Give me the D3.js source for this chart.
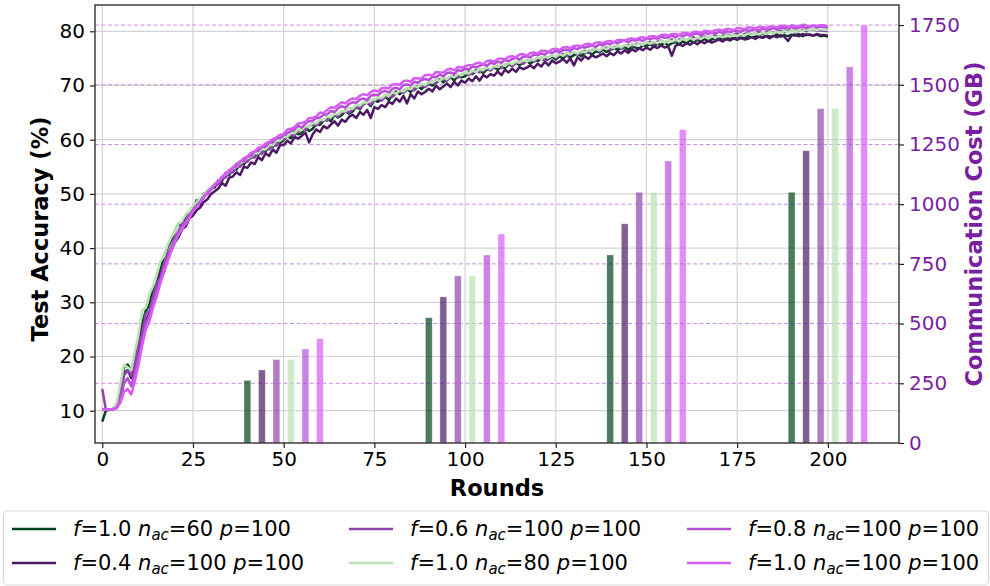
<!DOCTYPE html>
<html><head><meta charset="utf-8">
<script src="https://cdn.jsdelivr.net/npm/d3@7"></script>
<style>
html,body{margin:0;padding:0;background:#fff;}
svg{display:block;font-family:"DejaVu Sans",sans-serif;}
</style></head>
<body><svg id="chart" width="990" height="586"></svg>
<script>
// ---------------- data ----------------
const xTicks = [0,25,50,75,100,125,150,175,200];
const yTicks = [10,20,30,40,50,60,70,80];
const costTicks = [0,250,500,750,1000,1250,1500,1750];
const barRounds = [50,100,150,200];
const barOffsets = [-10,-6,-2,2,6,10];

const seriesNames = ["S1","S2","S3","S4","S5","S6"];
const legendF = ["1.0","0.4","0.6","1.0","0.8","1.0"];
const legendNac = ["60","100","100","80","100","100"];
const legendP = ["100","100","100","100","100","100"];
const colors = ["#00441b","#4b1a63","#8e44ad","#b8e3b0","#b44fd6","#d65cf5"];

const accS1 = [
8.0,10.0,10.2,10.3,11.0,14.0,18.0,18.5,17.5,20.0,
23.0,26.0,28.5,29.5,32.5,33.5,36.0,38.5,40.0,41.5,
43.0,44.5,44.0,46.0,46.5,47.0,48.8,48.0,50.0,50.5,
51.0,51.2,52.5,52.4,53.6,53.5,54.6,54.5,55.6,55.4,
56.5,56.6,57.3,57.2,58.2,57.8,59.0,58.7,59.8,59.4,
59.9,60.6,60.3,61.4,61.0,61.2,62.3,61.6,62.0,62.9,
62.7,63.5,63.9,63.4,64.6,64.1,64.5,65.3,64.8,65.2,
66.1,65.6,66.6,66.9,66.2,67.3,67.0,67.6,67.9,67.3,
68.3,68.9,68.4,69.0,69.4,68.8,69.5,69.9,69.3,70.1,
70.3,70.0,70.9,71.1,70.6,71.2,71.6,70.9,71.8,71.5,
71.7,72.4,72.1,72.6,72.9,72.3,73.0,72.8,73.4,72.9,
73.5,73.2,73.9,73.6,74.2,73.8,74.1,74.5,74.0,74.6,
74.5,75.0,74.7,74.9,75.3,74.8,75.4,75.0,75.6,75.2,
75.6,75.9,75.4,76.0,76.2,75.7,76.3,76.1,76.6,76.2,
76.5,76.9,76.6,76.8,77.1,76.6,77.2,77.0,76.8,77.4,
77.3,77.6,77.2,77.7,77.5,77.9,77.4,77.8,78.0,77.6,
78.1,77.8,78.3,78.0,78.4,78.2,78.6,78.1,78.5,78.7,
78.4,78.7,78.5,78.9,78.6,79.0,78.7,78.8,79.1,78.9,
79.0,79.2,78.8,79.3,79.0,79.1,79.4,79.0,79.3,79.1,
79.4,79.2,79.5,79.1,79.4,79.3,79.2,79.4,79.1,79.2,
79.0];
const accS2 = [
10.2,10.2,10.2,10.3,10.6,13.0,17.0,17.5,16.0,18.5,
21.0,25.5,26.5,28.0,30.5,32.0,36.0,35.5,38.0,39.5,
41.0,42.0,43.5,44.0,45.5,46.0,47.0,47.5,48.5,49.0,
50.0,50.5,51.0,52.0,51.5,53.0,53.2,54.0,53.5,55.0,
54.8,55.8,55.5,56.8,56.2,57.5,57.0,58.2,57.6,59.0,
59.0,59.8,59.3,60.5,60.2,60.7,61.3,59.5,61.0,61.9,
61.4,62.5,62.1,62.8,63.4,62.6,63.7,63.3,64.2,64.6,
64.0,65.1,64.6,65.5,64.0,66.0,65.7,66.4,66.0,67.0,
66.6,67.6,67.0,68.1,66.7,68.4,67.6,68.9,68.4,68.8,
69.4,68.9,70.0,69.3,69.8,70.4,69.7,70.7,70.0,70.9,
70.5,71.3,70.8,71.7,70.9,71.9,71.5,72.1,71.8,72.6,
71.9,72.9,72.4,73.1,72.5,73.4,73.0,73.3,73.7,73.2,
74.0,73.5,74.4,73.7,74.6,74.1,74.4,74.9,74.2,75.0,
73.7,75.2,74.6,75.4,74.9,75.6,75.2,75.5,75.9,75.4,
76.0,75.6,76.3,75.9,76.5,76.0,76.7,76.3,76.9,76.5,
77.0,76.6,77.2,76.9,77.4,77.0,77.2,75.5,77.3,77.6,
77.3,77.8,77.5,78.0,77.6,78.1,77.8,78.3,77.9,78.2,
78.5,78.1,78.6,78.3,78.7,78.4,78.8,78.5,78.6,79.0,
78.6,79.0,78.8,79.1,78.7,79.2,78.9,79.3,79.0,78.2,
79.2,79.4,79.1,79.5,79.3,79.4,79.2,79.5,79.3,79.3,
79.2];
const accS3 = [
14.0,10.2,10.2,10.2,10.5,12.5,16.5,17.5,16.5,19.0,
22.5,24.0,28.0,28.5,31.0,33.5,34.5,37.0,39.0,40.0,
42.0,43.0,44.5,45.0,46.5,46.8,48.0,48.5,49.5,50.0,
50.8,51.5,51.8,52.8,53.0,54.0,54.0,55.0,55.0,56.0,
55.9,56.9,56.7,57.6,57.4,58.4,58.2,59.0,58.9,59.8,
60.1,60.6,60.9,60.8,61.6,61.9,61.7,62.5,62.8,62.6,
63.3,63.7,63.5,64.2,64.6,64.3,65.0,65.4,65.0,65.6,
66.1,65.8,66.5,66.9,66.5,67.2,67.6,67.2,67.9,68.2,
67.9,68.6,68.9,68.6,69.2,69.5,69.1,69.8,70.1,69.7,
70.3,70.7,70.4,70.9,71.3,70.9,71.5,71.8,71.4,72.0,
72.3,71.9,72.4,72.8,72.4,72.9,73.2,72.8,73.4,73.6,
73.2,73.8,74.0,73.6,74.2,74.4,74.0,74.5,74.8,74.4,
74.9,75.1,74.7,75.2,75.5,75.1,75.6,75.8,75.4,75.9,
76.1,75.7,76.2,76.4,76.0,76.5,76.7,76.3,76.8,77.0,
76.6,77.1,77.3,76.9,77.3,77.5,77.2,77.6,77.8,77.4,
77.8,78.0,77.6,78.1,78.3,77.9,78.3,78.5,78.1,78.5,
78.7,78.3,78.7,78.9,78.5,78.9,79.1,78.7,79.1,79.3,
78.9,79.2,79.4,79.1,79.4,79.6,79.2,79.5,79.7,79.4,
79.7,79.9,79.5,79.8,80.0,79.7,79.9,80.1,79.8,80.1,
80.2,79.9,80.2,80.3,80.0,80.2,80.3,80.1,80.2,80.1,
80.0];
const accS4 = [
10.2,10.2,10.2,10.3,11.5,15.0,18.5,18.0,17.5,21.0,
24.0,28.5,29.0,31.5,33.0,35.0,37.5,38.5,40.5,42.0,
43.0,44.5,45.0,46.2,46.8,47.8,48.5,49.2,49.8,50.8,
51.2,51.9,52.4,53.0,53.6,54.0,54.7,55.0,55.7,56.0,
56.6,56.9,57.5,57.5,58.3,58.2,59.0,59.0,59.8,59.8,
60.6,60.5,61.3,61.2,61.9,61.8,62.5,62.4,63.1,63.0,
63.7,63.6,64.3,64.1,64.8,64.7,65.3,65.2,65.9,65.7,
66.4,66.3,66.9,66.8,67.4,67.3,67.8,67.7,68.3,68.1,
68.7,68.5,69.1,68.9,69.5,69.3,69.9,69.7,70.3,70.1,
70.7,70.5,71.1,70.8,71.4,71.2,71.8,71.5,72.1,71.9,
72.4,72.2,72.7,72.5,73.0,72.8,73.3,73.1,73.6,73.4,
73.9,73.6,74.2,73.9,74.4,74.2,74.7,74.4,74.9,74.7,
75.2,74.9,75.4,75.1,75.6,75.3,75.8,75.5,76.0,75.7,
76.2,75.9,76.4,76.1,76.6,76.3,76.8,76.5,77.0,76.7,
77.2,76.9,77.4,77.0,77.5,77.2,77.7,77.4,77.8,77.5,
78.0,77.7,78.1,77.8,78.3,77.9,78.4,78.1,78.5,78.2,
78.7,78.3,78.8,78.4,78.9,78.6,79.0,78.7,79.1,78.8,
79.2,78.9,79.3,79.0,79.4,79.1,79.5,79.2,79.6,79.3,
79.7,79.4,79.8,79.5,79.9,79.6,80.0,79.7,80.1,79.8,
80.2,79.9,80.3,80.0,80.4,80.1,80.4,80.2,80.4,80.3,
80.3];
const accS5 = [
10.2,10.2,10.2,10.3,10.6,12.0,15.0,16.0,14.5,17.0,
20.0,23.0,26.0,27.5,30.0,32.0,34.0,36.5,38.0,40.0,
41.5,42.5,44.0,44.8,46.0,46.8,47.8,48.6,49.5,50.3,
51.0,51.6,52.5,52.8,53.9,54.0,54.9,55.1,56.0,56.1,
56.9,57.0,57.9,57.9,58.7,58.7,59.5,59.5,60.3,60.3,
60.8,61.2,61.6,61.9,62.6,62.2,63.0,63.4,63.5,64.0,
64.1,64.6,64.7,65.3,65.1,65.8,66.2,65.9,66.6,66.9,
66.8,67.4,67.6,67.3,68.1,68.3,68.2,68.8,69.0,68.7,
69.4,69.6,69.3,70.1,70.2,70.0,70.7,70.5,71.0,71.2,
71.0,71.6,71.5,72.0,71.7,72.3,72.4,72.1,72.8,72.7,
73.1,72.9,73.5,73.3,73.6,73.9,73.6,74.2,74.0,74.4,
74.2,74.7,74.5,74.9,75.1,74.8,75.3,75.4,75.2,75.7,
75.6,75.9,75.7,76.2,76.0,76.4,76.1,76.5,76.6,76.4,
76.9,76.7,77.1,77.0,77.2,77.4,77.1,77.6,77.4,77.8,
77.6,78.0,77.8,78.1,78.3,78.0,78.4,78.3,78.5,78.2,
78.7,78.5,78.8,78.6,79.0,78.8,78.9,79.2,78.9,79.3,
79.1,79.4,79.2,79.5,79.6,79.3,79.7,79.5,79.8,79.6,
79.9,79.7,80.0,79.8,80.1,80.0,79.9,80.3,80.1,80.2,
80.4,80.1,80.5,80.3,80.4,80.6,80.3,80.7,80.5,80.6,
80.8,80.5,80.7,80.9,80.6,80.8,81.0,80.7,80.9,80.8,
80.7];
const accS6 = [
10.2,10.2,10.2,10.3,10.5,11.5,13.5,14.0,13.0,15.5,
18.5,22.0,25.0,26.5,29.0,31.0,33.5,35.5,37.5,39.5,
41.0,42.5,43.5,44.5,45.5,46.8,47.5,48.5,49.3,50.2,
51.0,51.8,52.3,53.2,53.6,54.4,54.8,55.6,55.9,56.6,
56.9,57.6,57.8,58.5,58.7,59.3,59.6,60.1,60.4,60.9,
61.0,61.9,62.0,62.3,63.0,63.1,63.3,64.0,64.0,64.3,
65.0,64.9,65.5,66.0,65.9,66.4,66.9,66.7,67.3,67.6,
67.5,68.1,68.4,68.2,68.8,69.1,68.9,69.5,69.6,69.5,
70.2,70.3,70.1,70.8,70.9,70.7,71.4,71.3,71.3,71.9,
72.0,71.8,72.5,72.4,72.4,72.9,73.1,72.8,73.4,73.3,
73.5,73.8,73.7,74.1,74.2,73.9,74.5,74.6,74.4,74.9,
75.0,74.8,75.3,75.4,75.2,75.7,75.8,75.5,76.0,76.1,
75.9,76.4,76.4,76.2,76.7,76.8,76.5,77.0,77.1,76.9,
77.3,77.4,77.2,77.6,77.7,77.5,77.9,78.0,77.8,78.1,
78.2,78.0,78.4,78.4,78.2,78.6,78.7,78.5,78.8,78.9,
78.7,79.1,79.1,78.9,79.3,79.4,79.2,79.5,79.5,79.3,
79.7,79.7,79.5,79.9,79.9,79.7,80.1,80.0,79.9,80.2,
80.3,80.1,80.4,80.4,80.2,80.6,80.5,80.4,80.7,80.7,
80.5,80.8,80.8,80.6,80.9,80.9,80.7,81.0,81.0,80.8,
81.1,81.0,80.9,81.2,81.1,80.9,81.1,81.0,81.1,81.1,
80.9];

const costS1 = [262.5,525,787.5,1050];
const costS2 = [306,612,918,1224];
const costS3 = [350,700,1050,1400];
const costS4 = [350,700,1050,1400];
const costS5 = [393.75,787.5,1181.25,1575];
const costS6 = [437.5,875,1312.5,1750];

const accAll = [accS1,accS2,accS3,accS4,accS5,accS6];
const costAll = [costS1,costS2,costS3,costS4,costS5,costS6];

// ---------------- layout ----------------
const svg = d3.select("#chart");
const L = 95, R = 899, T = 5, B = 443;
const purple = "#7b1fa2";

const x = d3.scaleLinear().domain([-2, 219.6]).range([L, R]);
const y = d3.scaleLinear().domain([4.04, 84.85]).range([B, T]);
const y2 = d3.scaleLinear().domain([0, 1834]).range([B, T]);

// grids
const g = svg.append("g");
g.selectAll(".xg").data(xTicks).join("line")
  .attr("x1", d => x(d)).attr("x2", d => x(d)).attr("y1", T).attr("y2", B)
  .attr("stroke", "#d3d3d3").attr("stroke-width", 1.2);
g.selectAll(".yg").data(yTicks).join("line")
  .attr("x1", L).attr("x2", R).attr("y1", d => y(d)).attr("y2", d => y(d))
  .attr("stroke", "#d3d3d3").attr("stroke-width", 1.2);
g.selectAll(".y2g").data(costTicks.filter(d => d > 0)).join("line")
  .attr("x1", L).attr("x2", R).attr("y1", d => y2(d)).attr("y2", d => y2(d))
  .attr("stroke", "#c98ee0").attr("stroke-width", 1).attr("stroke-dasharray", "4,2.5");

// lines
const line = d3.line().x((d, i) => x(i)).y(d => y(d));
accAll.forEach((arr, k) => {
  svg.append("path").datum(arr).attr("d", line)
    .attr("fill", "none").attr("stroke", colors[k]).attr("stroke-width", 2.5)
    .attr("stroke-linejoin", "round");
});

// bars
const barW = x(1.9) - x(0);
costAll.forEach((arr, k) => {
  svg.append("g").selectAll("rect").data(arr).join("rect")
    .attr("x", (d, i) => x(barRounds[i] + barOffsets[k]) - barW / 2)
    .attr("width", barW)
    .attr("y", d => y2(d))
    .attr("height", d => y2(0) - y2(d))
    .attr("fill", colors[k]).attr("fill-opacity", 0.7)
    .attr("stroke", "#ffffff").attr("stroke-opacity", 0.5).attr("stroke-width", 0.8);
});

// frame
svg.append("rect").attr("x", L).attr("y", T).attr("width", R - L).attr("height", B - T)
  .attr("fill", "none").attr("stroke", "#222").attr("stroke-width", 1.3);

// axes
const fs = 20;
const xAxis = svg.append("g").attr("transform", `translate(0,${B})`)
  .call(d3.axisBottom(x).tickValues(xTicks).tickSize(5).tickPadding(4).tickFormat(d3.format("d")));
const yAxis = svg.append("g").attr("transform", `translate(${L},0)`)
  .call(d3.axisLeft(y).tickValues(yTicks).tickSize(5).tickPadding(5).tickFormat(d3.format("d")));
const y2Axis = svg.append("g").attr("transform", `translate(${R},0)`)
  .call(d3.axisRight(y2).tickValues(costTicks).tickSize(5).tickPadding(5).tickFormat(d3.format("d")));
[xAxis, yAxis, y2Axis].forEach(a => {
  a.select(".domain").remove();
  a.selectAll("text").attr("font-size", fs).attr("font-family", "DejaVu Sans").attr("fill", "#000");
  a.selectAll("line").attr("stroke", "#222").attr("stroke-width", 1.2);
});
y2Axis.selectAll("text").attr("fill", purple);

// axis titles
svg.append("text").attr("x", 497).attr("y", 496)
  .attr("text-anchor", "middle").attr("font-size", 22.5).attr("font-weight", "bold").text("Rounds");
svg.append("text").attr("transform", `translate(48,${(T + B) / 2 + 5}) rotate(-90)`)
  .attr("text-anchor", "middle").attr("font-size", 22.5).attr("font-weight", "bold").text("Test Accuracy (%)");
svg.append("text").attr("transform", `translate(982,${(T + B) / 2}) rotate(-90)`)
  .attr("text-anchor", "middle").attr("font-size", 22.5).attr("font-weight", "bold")
  .attr("fill", purple).text("Communication Cost (GB)");

// legend
const leg = svg.append("g");
leg.append("rect").attr("x", 3.5).attr("y", 511).attr("width", 985).attr("height", 74)
  .attr("rx", 4).attr("fill", "#fff").attr("stroke", "#d8d8d8").attr("stroke-width", 1.2);
const colX = [12, 349, 687];
const rowY = [529, 563];
seriesNames.forEach((nm, k) => {
  const cx = colX[Math.floor(k / 2)], cy = rowY[k % 2];
  leg.append("line").attr("x1", cx).attr("x2", cx + 44).attr("y1", cy).attr("y2", cy)
    .attr("stroke", colors[k]).attr("stroke-width", 2.5);
  const t = leg.append("text").attr("x", cx + 61).attr("y", cy + 7).attr("font-size", 21);
  t.append("tspan").attr("font-style", "italic").text("f");
  t.append("tspan").text("=" + legendF[k] + " ");
  t.append("tspan").attr("font-style", "italic").text("n");
  t.append("tspan").attr("font-style", "italic").attr("font-size", 15).attr("dy", 4).text("ac");
  t.append("tspan").attr("dy", -4).text("=" + legendNac[k] + " ");
  t.append("tspan").attr("font-style", "italic").text("p");
  t.append("tspan").text("=" + legendP[k]);
});
</script>
</body></html>
